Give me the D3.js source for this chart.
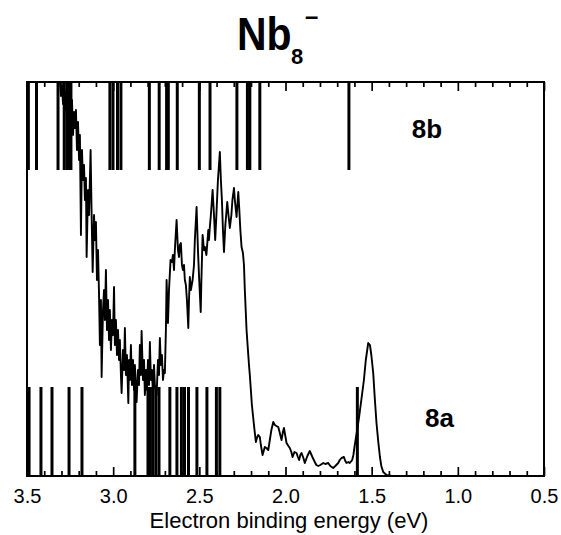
<!DOCTYPE html>
<html>
<head>
<meta charset="utf-8">
<script src="https://cdn.jsdelivr.net/npm/d3@7"></script>
<style>
  html, body { margin: 0; padding: 0; background: #fff; }
  svg { display: block; font-family: "Liberation Sans", Arial, Helvetica, sans-serif; }
</style>
</head>
<body>
<div id="chart"></div>
<script>
// ---------- data ----------
// photoelectron spectrum: electron binding energy (eV) and intensity (arb. units)
const specEnergy = [
  3.320,3.309,3.303,3.297,3.291,3.285,3.280,3.274,3.268,3.262,3.256,3.251,3.245,3.239,3.233,3.227,3.222,3.216,3.210,3.204,
  3.198,3.193,3.187,3.181,3.175,3.169,3.164,3.158,3.154,3.146,3.140,3.131,3.126,3.119,3.111,3.106,3.100,3.094,3.088,3.082,
  3.077,3.071,3.067,3.059,3.053,3.048,3.042,3.036,3.030,3.024,3.019,3.013,3.007,3.001,2.995,2.990,2.984,2.978,2.972,2.966,
  2.961,2.955,2.951,2.943,2.937,2.932,2.926,2.920,2.912,2.908,2.903,2.897,2.891,2.885,2.879,2.874,2.864,2.856,2.850,2.845,
  2.839,2.835,2.827,2.821,2.816,2.810,2.804,2.798,2.792,2.787,2.781,2.775,2.769,2.763,2.758,2.748,2.740,2.734,2.729,2.723,
  2.717,2.711,2.705,2.700,2.694,2.690,2.682,2.676,2.667,2.659,2.653,2.647,2.642,2.632,2.624,2.618,2.613,2.607,2.601,2.595,
  2.589,2.584,2.578,2.572,2.564,2.560,2.555,2.549,2.539,2.531,2.526,2.516,2.508,2.502,2.492,2.488,2.481,2.473,2.468,2.459,
  2.448,2.444,2.439,2.433,2.423,2.415,2.408,2.401,2.392,2.381,2.375,2.369,2.363,2.357,2.349,2.338,2.331,2.323,2.314,2.308,
  2.299,2.294,2.284,2.274,2.268,2.262,2.255,2.247,2.241,2.236,2.226,2.218,2.211,2.207,2.195,2.183,2.172,2.166,2.158,2.149,
  2.143,2.133,2.125,2.120,2.111,2.100,2.091,2.082,2.071,2.062,2.053,2.042,2.033,2.023,2.015,2.009,2.001,1.994,1.983,1.975,
  1.966,1.959,1.948,1.936,1.928,1.921,1.914,1.907,1.896,1.888,1.873,1.859,1.844,1.830,1.821,1.810,1.798,1.781,1.769,1.752,
  1.740,1.723,1.711,1.694,1.685,1.675,1.661,1.653,1.646,1.635,1.627,1.613,1.606,1.598,1.586,1.573,1.560,1.545,1.534,1.520,
  1.510,1.502,1.491,1.482,1.472,1.461,1.452,1.444,1.433,1.414,1.383
];
const specIntensity = [
  203,197,190,195,186,196,183,192,179,190,175,186,178,188,170.5,182,174,183,163,177,
  158,170.5,120.5,163,148,155.5,138,149,109.5,143,130.5,163,135.5,102,130.5,118,127,98,113,90.5,
  65.5,88,49.5,83,93,78,103,73,88,68,83,63,78,70.5,94.5,65.5,78,60.5,73,58,
  68,50.5,41.5,63,53,74,50.5,60.5,36.5,58,48,65.5,45.5,58,43,55.5,37,53,45.5,65.5,
  50.5,72.5,48,58,40.5,53,43,58,45.5,67,48,53,40.5,55.5,45.5,40.5,58,50.5,69,55.5,
  60.5,48,53,51.5,73,98,76.5,93,108,107,110.5,103,113,128,113,109.5,115.5,116.5,105.5,103,
  105.5,98,95.5,88,74,88,99.5,93,98,105.5,118,134.5,113,100.5,82,98,120.5,113,114.5,110.5,
  123,118,124.5,130.5,143,130.5,118,130.5,148,162,148,138,123,112,125.5,137,130.5,124,130.5,138,
  144,138,129.5,142,133,123,114.5,111.5,105.5,93,73,63,54.5,50.5,35.5,25.5,17,19,20.5,19.5,
  15.5,10.5,13,14.5,14,13,18,23,27,25.5,25,24.5,21.5,18,22,24,20,16.5,15,14,
  12,9.5,12,11.5,9.5,8,10.5,11.5,9,6.5,10,12.5,9.5,7,5.5,5,5.5,6.5,6,6.5,
  5,4,5,6.5,8,9,9.5,7.5,6.5,7,6.5,8,10.5,15.5,22,29.5,38,48,58,66.5,
  65.5,60.5,51.5,39,26.5,16.5,9.5,5,2,0.5,0
];
// calculated transition energies (eV): structure 8b (top) and 8a (bottom)
const sticks8b = [3.492,3.445,3.320,3.284,3.268,3.256,3.245,3.019,3.001,2.975,2.955,2.790,2.733,2.690,2.680,2.628,2.500,2.438,2.282,2.221,2.207,2.149,1.632];
const sticks8a = [3.488,3.419,3.355,3.256,3.181,2.874,2.798,2.784,2.769,2.752,2.734,2.671,2.630,2.604,2.586,2.563,2.514,2.456,2.401,2.381,1.583];
// axis
const xDomain = [3.5, 0.5];
const majorTicks = [3.5, 3.0, 2.5, 2.0, 1.5, 1.0, 0.5];
const minorTicks = [3.4,3.3,3.2,3.1,2.9,2.8,2.7,2.6,2.4,2.3,2.2,2.1,1.9,1.8,1.7,1.6,1.4,1.3,1.2,1.1,0.9,0.8,0.7,0.6];
const xLabel = "Electron binding energy (eV)";
const panelLabels = ["8b", "8a"];

// ---------- layout ----------
const W = 561, H = 535;
const L = 27, R = 544, T = 82, B = 476;
const yMax = 197;
const stick8bBottom = 153;   // in intensity units (lower end of top sticks)
const stick8aTop = 44.5;     // in intensity units (upper end of bottom sticks)

const svg = d3.select("#chart").append("svg").attr("width", W).attr("height", H);

const x = d3.scaleLinear().domain(xDomain).range([L, R]);
const y = d3.scaleLinear().domain([0, yMax]).range([B, T]);

svg.append("clipPath").attr("id", "clip")
  .append("rect").attr("x", L).attr("y", T).attr("width", R - L).attr("height", B - T);

const plot = svg.append("g").attr("clip-path", "url(#clip)");

// sticks
plot.append("g").selectAll("line").data(sticks8b).join("line")
  .attr("x1", d => x(d)).attr("x2", d => x(d))
  .attr("y1", y(yMax)).attr("y2", y(stick8bBottom))
  .attr("stroke", "#000").attr("stroke-width", 3);
plot.append("g").selectAll("line").data(sticks8a).join("line")
  .attr("x1", d => x(d)).attr("x2", d => x(d))
  .attr("y1", y(0)).attr("y2", y(stick8aTop))
  .attr("stroke", "#000").attr("stroke-width", 3);

// spectrum
const spec = specEnergy.map((e, i) => [e, specIntensity[i]]);
plot.append("path").datum(spec)
  .attr("fill", "none").attr("stroke", "#000").attr("stroke-width", 1.9)
  .attr("stroke-linejoin", "round")
  .attr("d", d3.line().x(d => x(d[0])).y(d => y(d[1])));

// axes: ticks point inward, on top and bottom
const fmt = d3.format(".1f");
function addAxis(gen, ty, ticks, len, labels) {
  const g = svg.append("g").attr("transform", `translate(0,${ty})`)
    .call(gen(x).tickValues(ticks).tickSizeInner(len).tickSizeOuter(0)
      .tickPadding(13).tickFormat(labels ? fmt : () => ""));
  g.select(".domain").remove();
  g.selectAll(".tick line").attr("stroke", "#000").attr("stroke-width", 1.7);
  g.selectAll(".tick text").attr("font-size", 20).attr("fill", "#000")
    .attr("font-family", "'Liberation Sans', Arial, sans-serif");
  return g;
}
addAxis(d3.axisBottom, B, majorTicks, -9, true);
addAxis(d3.axisBottom, B, minorTicks, -5, false);
addAxis(d3.axisTop, T, majorTicks, -9, false);
addAxis(d3.axisTop, T, minorTicks, -5, false);

// frame
svg.append("rect").attr("x", L).attr("y", T).attr("width", R - L).attr("height", B - T)
  .attr("fill", "none").attr("stroke", "#000").attr("stroke-width", 2);

// x axis title
svg.append("text").attr("x", 289).attr("y", 528).attr("text-anchor", "middle")
  .attr("font-size", 22).text(xLabel);

// panel labels
svg.append("text").attr("x", 427).attr("y", 138).attr("text-anchor", "middle")
  .attr("font-size", 26).attr("font-weight", "bold").text(panelLabels[0]);
svg.append("text").attr("x", 439.5).attr("y", 427).attr("text-anchor", "middle")
  .attr("font-size", 26).attr("font-weight", "bold").text(panelLabels[1]);

// title Nb8-
const title = svg.append("g");
title.append("text").attr("x", 237).attr("y", 50).attr("font-size", 46).attr("font-weight", "bold")
  .attr("transform", "translate(237,0) scale(0.89,1) translate(-237,0)").text("Nb");
title.append("text").attr("x", 291).attr("y", 64).attr("font-size", 22).attr("font-weight", "bold").text("8");
title.append("text").attr("x", 305).attr("y", 24).attr("font-size", 24).attr("font-weight", "bold").text("–");
</script>
</body>
</html>
